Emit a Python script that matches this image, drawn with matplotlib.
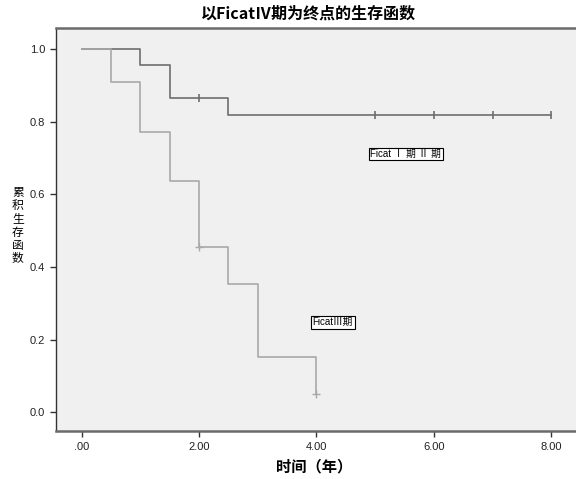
import matplotlib
matplotlib.use("Agg")
import matplotlib.pyplot as plt

plt.rcParams['font.family'] = ['Noto Sans CJK SC', 'DejaVu Sans']

# Ficat I/II group
g1_t = [0, 1.0, 1.5, 2.5, 8.0]
g1_s = [1.0, 0.955, 0.864, 0.818, 0.818]
g1_cens_t = [2.0, 5.0, 6.0, 7.0, 8.0]
g1_cens_s = [0.864, 0.818, 0.818, 0.818, 0.818]

# Ficat III group
g2_t = [0, 0.5, 1.0, 1.5, 2.0, 2.5, 3.0, 4.0]
g2_s = [1.0, 0.909, 0.773, 0.636, 0.455, 0.354, 0.152, 0.05]
g2_cens_t = [2.0, 4.0]
g2_cens_s = [0.455, 0.05]

x_ticks = [0, 2, 4, 6, 8]
x_ticklabels = ['.00', '2.00', '4.00', '6.00', '8.00']
y_ticks = [0.0, 0.2, 0.4, 0.6, 0.8, 1.0]
y_ticklabels = ['0.0', '0.2', '0.4', '0.6', '0.8', '1.0']
y_label = '累积生存函数'

fig = plt.figure(figsize=(5.76, 4.79), dpi=100)
ax = fig.add_axes([0.0967, 0.100, 0.9033, 0.8415])
ax.set_facecolor('#f0f0f0')

c1 = '#6e6e6e'
c2 = '#a8a8a8'
ax.step(g1_t, g1_s, where='post', color=c1, lw=1.2)
ax.plot(g1_cens_t, g1_cens_s, '|', color=c1, ms=6, mew=1.2)
ax.step(g2_t, g2_s, where='post', color=c2, lw=1.2)
ax.plot(g2_cens_t, g2_cens_s, '+', color=c2, ms=6, mew=1.0)

ax.set_xlim(-0.44, 8.42)
ax.set_ylim(-0.052, 1.058)
ax.set_xticks(x_ticks)
ax.set_xticklabels(x_ticklabels, fontsize=8, family='Liberation Sans')
ax.set_yticks(y_ticks)
ax.set_yticklabels(y_ticklabels, fontsize=8, family='Liberation Sans')
ax.tick_params(direction='out', length=4, width=1, color='#333333', labelcolor='#222222')

for s in ['top', 'bottom']:
    ax.spines[s].set_color('#6a6a6a')
    ax.spines[s].set_linewidth(1.8)
ax.spines['left'].set_color('#333333')
ax.spines['left'].set_linewidth(1.0)
ax.spines['right'].set_visible(False)

bbox = dict(boxstyle='square,pad=0.15', fc='white', ec='black', lw=0.8)
ax.text(5.52, 0.711, 'Ficat Ⅰ 期 Ⅱ 期', fontsize=7, ha='center', va='center', bbox=bbox,
        family=['Liberation Sans', 'Noto Sans CJK SC'])
ax.text(4.28, 0.248, 'FicatⅢ期', fontsize=7, ha='center', va='center', bbox=bbox,
        family=['Liberation Sans', 'Noto Sans CJK SC'])

fig.text(0.535, 0.972, '以FicatⅣ期为终点的生存函数', ha='center', va='center',
         fontsize=11.5, fontweight='bold')
fig.text(0.545, 0.027, '时间（年）', ha='center', va='center', fontsize=11, fontweight='bold')
for i, ch in enumerate(y_label):
    ypx = 196 + i * 13.2
    fig.text(0.031, 1 - ypx / 479, ch, ha='center', va='baseline', fontsize=8.5,
             family='Noto Sans CJK SC')

fig.savefig('out.png', dpi=100, facecolor='white')
